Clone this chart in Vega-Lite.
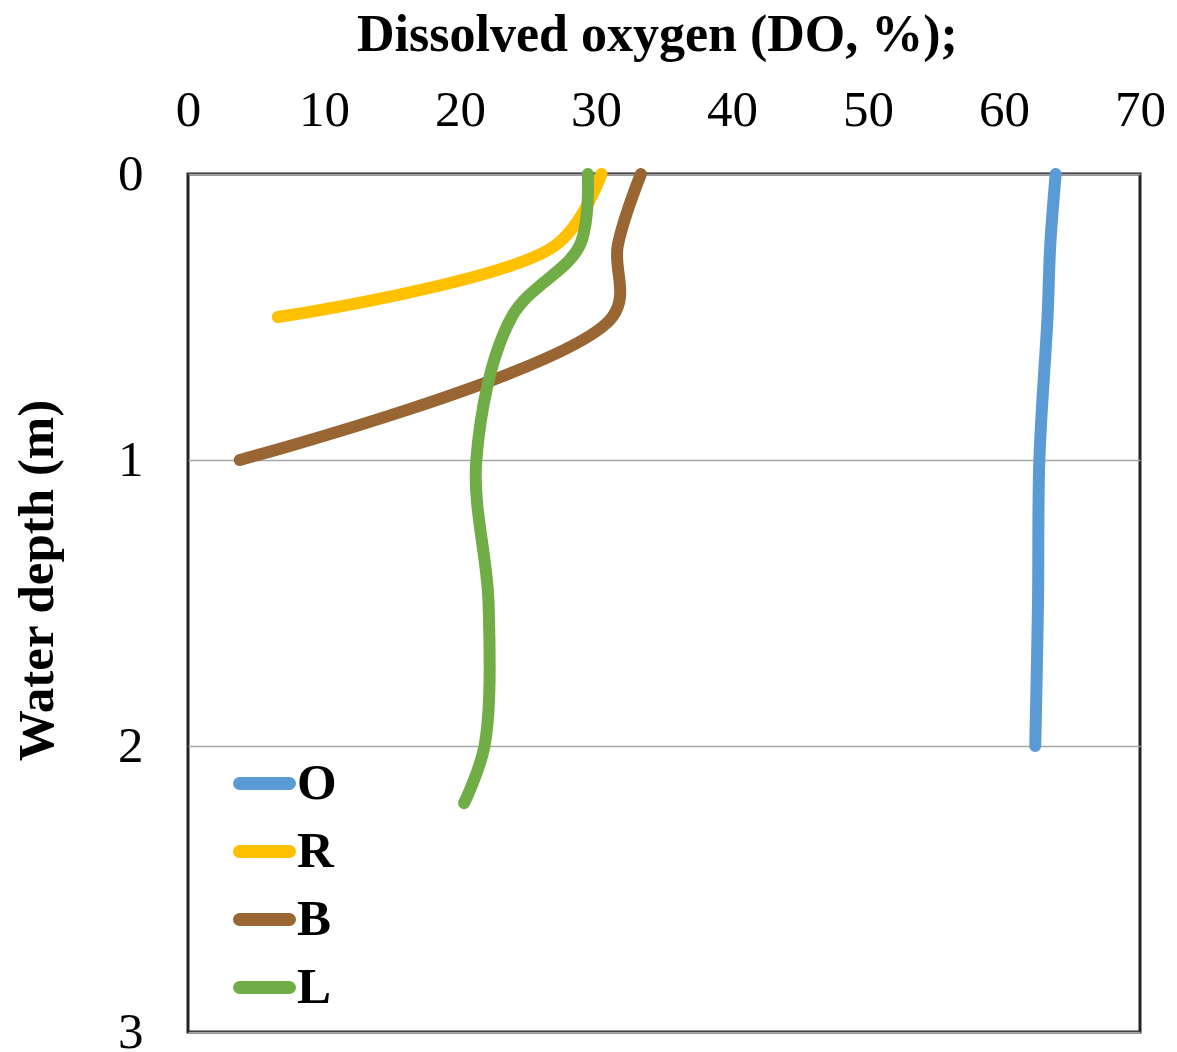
{
  "$schema": "https://vega.github.io/schema/vega-lite/v6.json",
  "autosize": "none",
  "width": 952,
  "height": 858,
  "padding": {"left": 188, "top": 174, "right": 37, "bottom": 20},
  "background": "white",
  "config": {
    "view": {"stroke": "#222", "strokeWidth": 3},
    "font": "Liberation Serif"
  },
  "data": {
    "values": [
      {"site": "O", "depth": 0, "DO": 63.8},
      {"site": "O", "depth": 0.25, "DO": 63.4},
      {"site": "O", "depth": 0.5, "DO": 63.2},
      {"site": "O", "depth": 1, "DO": 62.6},
      {"site": "O", "depth": 1.5, "DO": 62.5},
      {"site": "O", "depth": 2, "DO": 62.3},
      {"site": "R", "depth": 0, "DO": 30.4},
      {"site": "R", "depth": 0.25, "DO": 27.0},
      {"site": "R", "depth": 0.5, "DO": 6.6},
      {"site": "B", "depth": 0, "DO": 33.3},
      {"site": "B", "depth": 0.25, "DO": 31.6},
      {"site": "B", "depth": 0.5, "DO": 31.2},
      {"site": "B", "depth": 1, "DO": 3.8},
      {"site": "L", "depth": 0, "DO": 29.4},
      {"site": "L", "depth": 0.25, "DO": 28.8},
      {"site": "L", "depth": 0.5, "DO": 23.8},
      {"site": "L", "depth": 1, "DO": 21.2},
      {"site": "L", "depth": 1.5, "DO": 22.1},
      {"site": "L", "depth": 2, "DO": 21.8},
      {"site": "L", "depth": 2.2, "DO": 20.3}
    ]
  },
  "mark": {"type": "line", "strokeWidth": 12, "strokeCap": "round", "strokeJoin": "round", "interpolate": "catmull-rom"},
  "encoding": {
    "x": {
      "field": "DO", "type": "quantitative",
      "scale": {"domain": [0, 70], "nice": false, "zero": false},
      "axis": {
        "orient": "top",
        "title": "Dissolved oxygen (DO, %);",
        "values": [0, 10, 20, 30, 40, 50, 60, 70],
        "grid": false, "ticks": false, "tickSize": 0, "domain": false,
        "labelFont": "Liberation Serif", "labelFontSize": 51, "labelColor": "#000",
        "labelPadding": 38, "labelFlush": false,
        "titleFont": "Liberation Serif", "titleFontSize": 52, "titleFontWeight": "bold", "titleColor": "#000",
        "titleX": 469, "titleY": -124, "titleBaseline": "alphabetic", "titleAnchor": "middle"
      }
    },
    "y": {
      "field": "depth", "type": "quantitative",
      "scale": {"domain": [0, 3], "reverse": true, "nice": false},
      "axis": {
        "title": "Water depth (m)",
        "values": [0, 1, 2, 3],
        "grid": true, "gridColor": "#a6a6a6", "gridWidth": 1.5,
        "ticks": false, "tickSize": 0, "domain": false,
        "labelFont": "Liberation Serif", "labelFontSize": 51, "labelColor": "#000",
        "labelPadding": 45, "labelFlush": false,
        "titleFont": "Liberation Serif", "titleFontSize": 51, "titleFontWeight": "bold", "titleColor": "#000",
        "titleX": -136, "titleY": 406, "titleBaseline": "alphabetic", "titleAngle": -90, "titleAnchor": "middle"
      }
    },
    "color": {
      "field": "site", "type": "nominal",
      "scale": {"domain": ["O", "R", "B", "L"], "range": ["#5b9bd5", "#ffc000", "#996633", "#70ad47"]},
      "legend": {
        "orient": "none", "legendX": 45, "legendY": 578,
        "title": null,
        "symbolType": "stroke", "symbolSize": 2500, "symbolStrokeWidth": 13,
        "labelFont": "Liberation Serif", "labelFontSize": 51, "labelFontWeight": "bold", "labelColor": "#000",
        "labelOffset": 1, "rowPadding": 10, "padding": 0,
        "encode": {"symbols": {"update": {"strokeCap": {"value": "round"}}}}
      }
    },
    "order": {"field": "depth", "type": "quantitative"}
  }
}
